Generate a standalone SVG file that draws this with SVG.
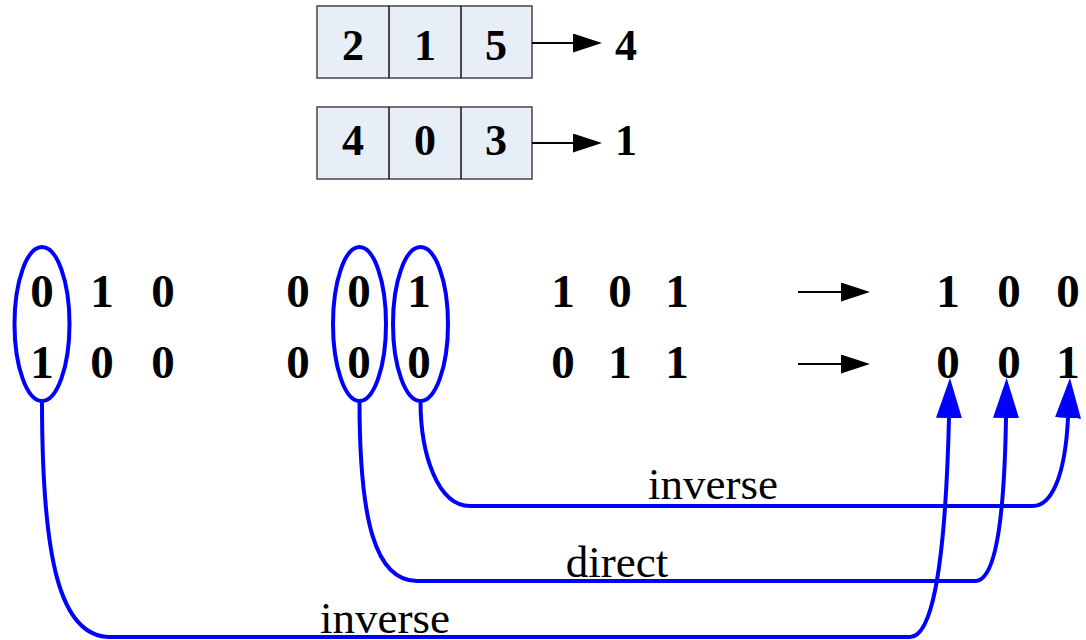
<svg xmlns="http://www.w3.org/2000/svg" width="1086" height="640" viewBox="0 0 1086 640">
<style>
.cell{fill:#e8eef8;stroke:#444;stroke-width:1.5}
.div{stroke:#111;stroke-width:1.5}
.bd{font-family:"Liberation Serif","Times New Roman",serif;font-weight:bold;text-anchor:middle;fill:#000}
.b41{font-size:44px}
.b44{font-size:47px}
.lbl{font-family:"Liberation Serif","Times New Roman",serif;font-size:45px;text-anchor:middle;fill:#000}
.blk{stroke:#000;stroke-width:2;fill:none}
.blu{stroke:#0000ff;stroke-width:4;fill:none}
</style>
<defs>
<marker id="ah" markerUnits="userSpaceOnUse" markerWidth="40" markerHeight="26" viewBox="0 0 40 26" refX="0" refY="13" orient="auto">
<path d="M0,0 L40,13 L0,26 z" fill="#0000ff"/>
</marker>
<marker id="bh" markerUnits="userSpaceOnUse" markerWidth="29" markerHeight="19" viewBox="0 0 29 19" refX="0" refY="9.5" orient="auto">
<path d="M0,0 L29,9.5 L0,19 z" fill="#000"/>
</marker>
</defs>

<g id="box1">
<rect class="cell" x="317" y="6" width="215" height="72"/>
<line class="div" x1="389" y1="6" x2="389" y2="78"/>
<line class="div" x1="461" y1="6" x2="461" y2="78"/>
<text class="bd b41" x="353" y="60">2</text>
<text class="bd b41" x="425" y="60">1</text>
<text class="bd b41" x="496" y="60">5</text>
</g>
<g id="res1"><text class="bd b41" x="626" y="60">4</text></g>

<g id="box2">
<rect class="cell" x="317" y="107" width="215" height="72"/>
<line class="div" x1="389" y1="107" x2="389" y2="179"/>
<line class="div" x1="461" y1="107" x2="461" y2="179"/>
<text class="bd b41" x="353" y="155">4</text>
<text class="bd b41" x="425" y="155">0</text>
<text class="bd b41" x="496" y="155">3</text>
</g>
<g id="res2"><text class="bd b41" x="626" y="155">1</text></g>

<g id="matrixA">
<text class="bd b44" x="42" y="307">0</text>
<text class="bd b44" x="102" y="307">1</text>
<text class="bd b44" x="163" y="307">0</text>
<text class="bd b44" x="42" y="378">1</text>
<text class="bd b44" x="102" y="378">0</text>
<text class="bd b44" x="163" y="378">0</text>
</g>
<g id="matrixB">
<text class="bd b44" x="298" y="307">0</text>
<text class="bd b44" x="359" y="307">0</text>
<text class="bd b44" x="419" y="307">1</text>
<text class="bd b44" x="298" y="378">0</text>
<text class="bd b44" x="359" y="378">0</text>
<text class="bd b44" x="419" y="378">0</text>
</g>
<g id="matrixC">
<text class="bd b44" x="563" y="307">1</text>
<text class="bd b44" x="620" y="307">0</text>
<text class="bd b44" x="677" y="307">1</text>
<text class="bd b44" x="563" y="378">0</text>
<text class="bd b44" x="620" y="378">1</text>
<text class="bd b44" x="677" y="378">1</text>
</g>
<g id="matrixD">
<text class="bd b44" x="948" y="307">1</text>
<text class="bd b44" x="1009" y="307">0</text>
<text class="bd b44" x="1068" y="307">0</text>
<text class="bd b44" x="948" y="378">0</text>
<text class="bd b44" x="1009" y="378">0</text>
<text class="bd b44" x="1068" y="378">1</text>
</g>

<g id="ellipse1"><ellipse class="blu" cx="42" cy="324" rx="27.5" ry="77"/></g>
<g id="ellipse2"><ellipse class="blu" cx="359.5" cy="324" rx="26.5" ry="77"/></g>
<g id="ellipse3"><ellipse class="blu" cx="420.5" cy="324" rx="27.5" ry="77"/></g>

<g id="connectors">
<line class="blk" x1="532" y1="43" x2="573" y2="43" marker-end="url(#bh)"/>
<line class="blk" x1="532" y1="143" x2="573" y2="143" marker-end="url(#bh)"/>
<line class="blk" x1="798" y1="292" x2="841" y2="292" marker-end="url(#bh)"/>
<line class="blk" x1="798" y1="364" x2="841" y2="364" marker-end="url(#bh)"/>
<path class="blu" d="M420.5,401 C420.5,455 438,506 470,506 L1033,506 C1050,506 1065,480 1068,418" marker-end="url(#ah)"/>
<path class="blu" d="M359.5,401 C359.5,520 375,581 417,581 L975,581 C992,581 1004,540 1006,418" marker-end="url(#ah)"/>
<path class="blu" d="M42,401 C42,560 60,637 110,637 L910,637 C930,637 945,580 949,418" marker-end="url(#ah)"/>
<text class="lbl" x="713" y="499">inverse</text>
<text class="lbl" x="617" y="577">direct</text>
<text class="lbl" x="385" y="633">inverse</text>
</g>
</svg>
